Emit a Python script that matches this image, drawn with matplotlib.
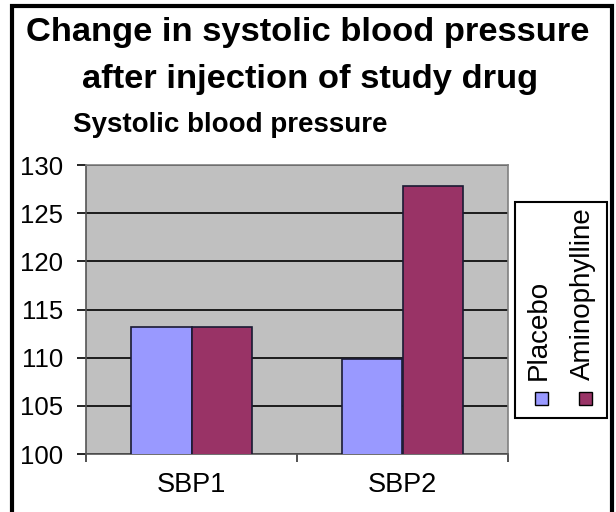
import matplotlib.pyplot as plt
import numpy as np
from matplotlib.patches import Rectangle

categories = ["SBP1", "SBP2"]
series_names = ["Placebo", "Aminophylline"]
placebo = [113.2, 109.9]
aminophylline = [113.2, 127.8]
series_colors = ["#9999FF", "#993366"]
y_ticks = [100, 105, 110, 115, 120, 125, 130]

plt.rcParams["font.family"] = ["Liberation Sans", "DejaVu Sans"]

W, H = 616, 512
fig = plt.figure(figsize=(W / 100, H / 100), dpi=100)


def fx(px):
    return px / W


def fy(py):
    return 1 - py / H


# plot area in pixel terms
left, right, top, bottom = 86, 508, 165, 454
ax = fig.add_axes([fx(left), fy(bottom), fx(right - left), (bottom - top) / H])
ax.set_facecolor("#C0C0C0")

x = np.arange(len(categories))
width = 0.287
for i, (vals, color, name) in enumerate(zip([placebo, aminophylline], series_colors, series_names)):
    ax.bar(x + (i - 0.5) * width, vals, width=width, color=color, edgecolor="#1a1a33",
           linewidth=1.2, label=name, zorder=3)

ax.set_xlim(-0.5, len(categories) - 0.5)
ax.set_ylim(100, 130)
ax.set_yticks(y_ticks)
ax.set_yticklabels([str(t) for t in y_ticks], fontsize=18.5)
ax.yaxis.grid(True, color="black", linewidth=1.2, zorder=1)
ax.set_axisbelow(True)
ax.tick_params(axis="y", length=6.5, width=1.2, color="black", pad=10, direction="out")

ax.set_xticks(x)
ax.set_xticklabels(categories, fontsize=19.5)
ax.tick_params(axis="x", length=0, pad=13)
ax.set_xticks(np.arange(len(categories) + 1) - 0.5, minor=True)
ax.tick_params(axis="x", which="minor", length=6, width=1.2, color="#333333")

ax.spines["left"].set_color("#555555")
ax.spines["bottom"].set_color("#555555")
ax.spines["top"].set_color("#808080")
ax.spines["right"].set_color("#808080")
for s in ax.spines.values():
    s.set_linewidth(1.2)

fig.text(fx(308), fy(41), "Change in systolic blood pressure", ha="center", va="baseline",
         fontsize=24.8, fontweight="bold")
fig.text(fx(310), fy(88), "after injection of study drug", ha="center", va="baseline",
         fontsize=24.8, fontweight="bold")
fig.text(fx(73), fy(132), "Systolic blood pressure", ha="left", va="baseline",
         fontsize=20, fontweight="bold")

# rotated legend drawn by hand
fig.patches.append(Rectangle((fx(515), fy(418)), fx(92), (418 - 202) / H, transform=fig.transFigure,
                             facecolor="white", edgecolor="black", linewidth=1.5))
for name, color, xc in zip(series_names, series_colors, [541, 585]):
    fig.patches.append(Rectangle((fx(xc - 6.5), fy(405)), fx(13), 13 / H, transform=fig.transFigure,
                                 facecolor=color, edgecolor="black", linewidth=1))
    fig.text(fx(xc - 2), fy(380), name, rotation=90, ha="center", va="bottom", fontsize=20)

# outer frame
fig.patches.append(Rectangle((fx(12), fy(530)), fx(600), 524 / H, transform=fig.transFigure,
                             facecolor="none", edgecolor="black", linewidth=3))

fig.savefig("out.png", dpi=100)
